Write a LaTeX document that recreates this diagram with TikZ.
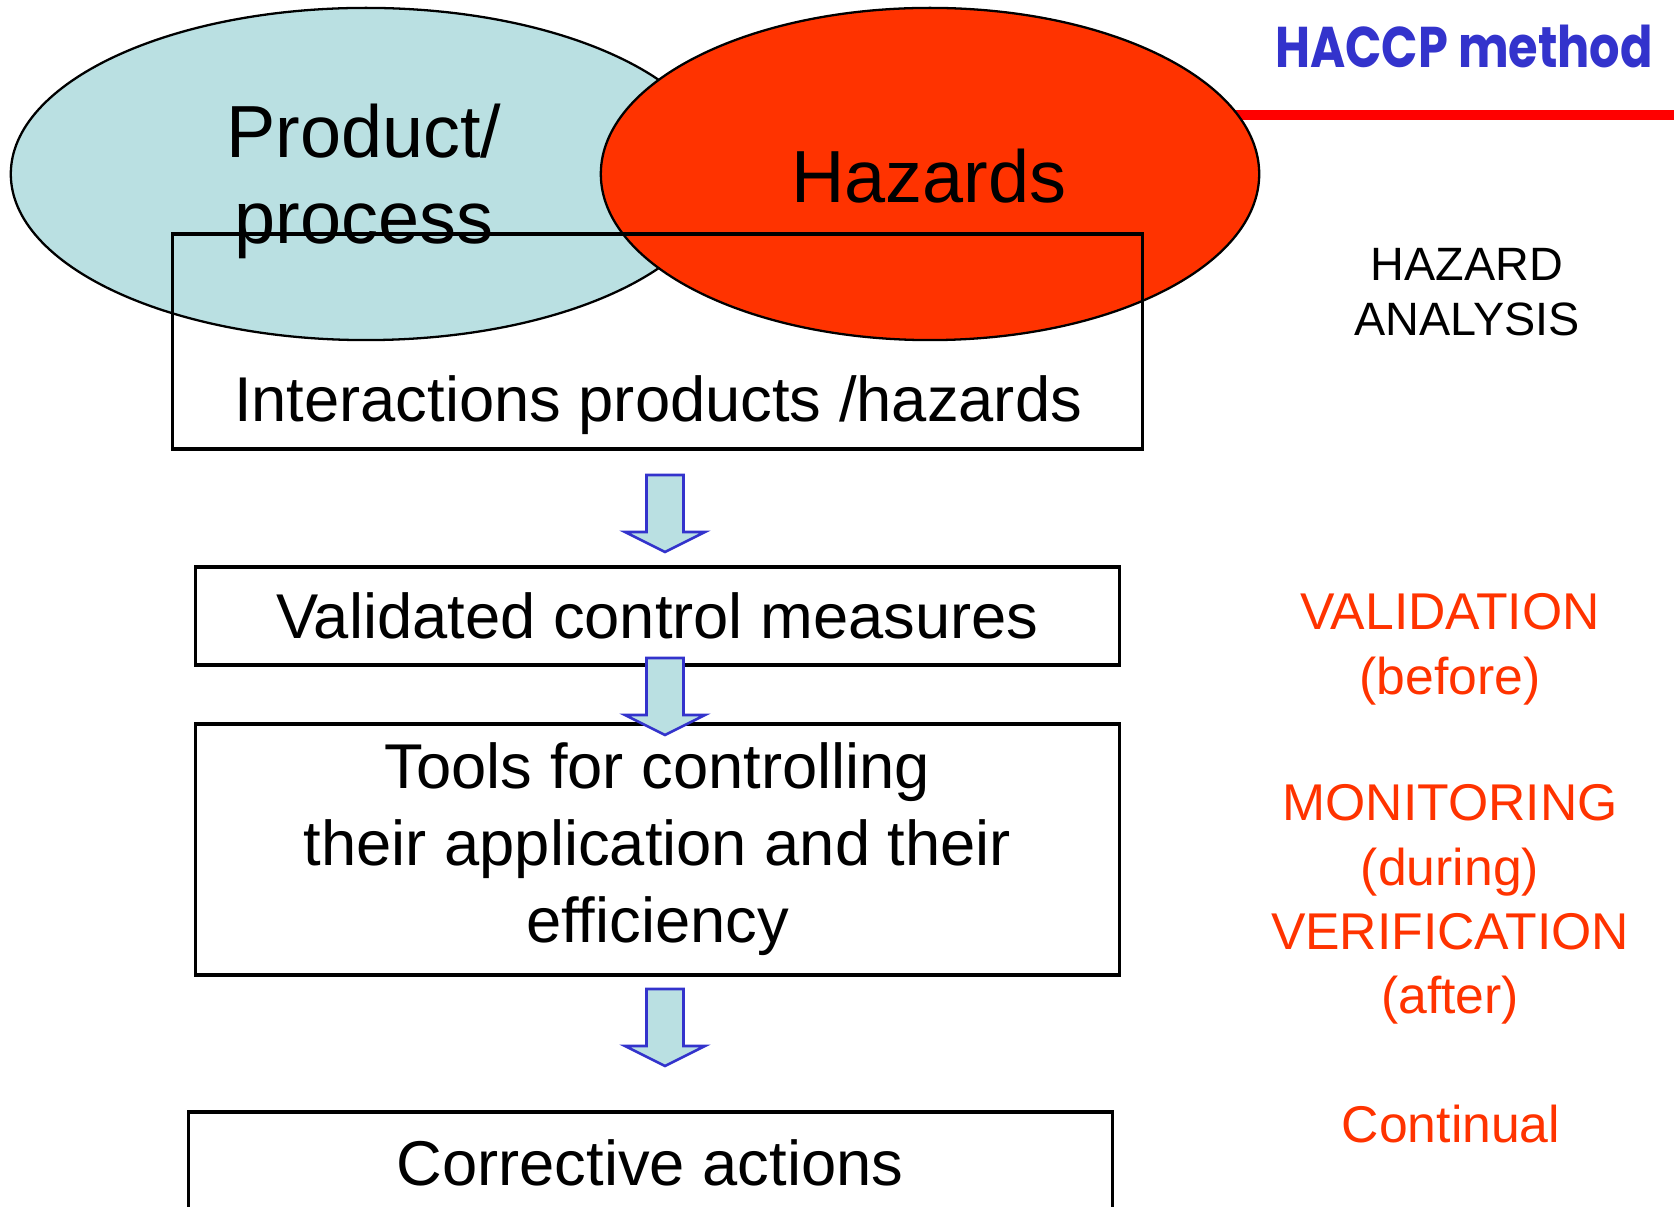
\documentclass[tikz,border=0pt]{standalone}
\usepackage{fontspec}
\setmainfont{Liberation Sans}
\newfontfamily\haccpfont{Poppins}
\usetikzlibrary{shapes.geometric}
\definecolor{paleblue}{HTML}{BAE0E2}
\definecolor{hazred}{HTML}{FF3300}
\definecolor{haccpblue}{HTML}{3333CC}
\definecolor{linered}{HTML}{FF0000}
\tikzset{
  stepbox/.style={draw=black, line width=0.9pt, inner sep=0pt, align=center,
     font=\fontsize{18}{21.9}\selectfont},
  blob/.style={ellipse, draw=black, line width=0.65pt, inner sep=0pt, align=center,
     font=\fontsize{21}{24.5}\selectfont},
  sidenote/.style={text=hazred, align=center, font=\fontsize{14.7}{18.2}\selectfont},
  barrow/.pic={\draw[draw=haccpblue, fill=paleblue, line width=0.75pt, line join=miter]
     (-18.5,0) -- (18.5,0) -- (18.5,57) -- (40,57) -- (0,77) -- (-40,57) -- (-18.5,57) -- cycle;}
}
\begin{document}
\begin{tikzpicture}[x=0.01cm, y=-0.01cm]
\useasboundingbox (0,0) rectangle (1677,1207);
\clip (0,0) rectangle (1677,1207);
% title and rule
\draw[linered, line width=3.1pt] (1235,115) -- (1674,115);
\node[anchor=base, text=haccpblue, inner sep=0pt, font=\haccpfont\bfseries\fontsize{13.6}{16}\selectfont] (title) at (1464,68) {\scalebox{1}[1.2]{HACCP method}};
% ellipses
\node[blob, fill=paleblue, minimum width=7.10cm, minimum height=3.32cm] (prod) at (366,174) {};
\node[blob, fill=hazred, minimum width=6.58cm, minimum height=3.32cm] (haz) at (930,174) {};
\node[anchor=base, align=center, font=\fontsize{21}{24.5}\selectfont] (prodtext) at (364,244) {Product/\\process};
\node[anchor=base, font=\fontsize{21}{24.5}\selectfont] (haztext) at (929,203) {Hazards};
% interactions box
\node[stepbox, minimum width=9.69cm, minimum height=2.15cm] (inter) at (657.5,341.5) {};
\node[anchor=base, font=\fontsize{18}{21.9}\selectfont] (intertext) at (658,422) {Interactions products /hazards};
% hazard analysis
\node[anchor=base, align=center, font=\fontsize{13.3}{15.9}\selectfont] (ha) at (1467,336) {HAZARD\\ANALYSIS};
% boxes
\node[stepbox, minimum width=9.23cm, minimum height=0.98cm] (valid) at (657.5,616) {Validated control measures};
\node[stepbox, minimum width=9.23cm, minimum height=2.51cm] (tools) at (657.5,849.5) {Tools for controlling\\their application and their\\efficiency};
\node[stepbox, minimum width=9.23cm, minimum height=2.20cm] (corr) at (650.5,1222) {};
\node[anchor=base, font=\fontsize{18}{21.9}\selectfont] (corrtext) at (650,1185) {Corrective actions};
% block arrows
\pic (a1) at (665,475) {barrow};
\pic (a2) at (665,658) {barrow};
\pic (a3) at (665,989) {barrow};
% side notes
\node[sidenote, anchor=base] (val) at (1450,694) {VALIDATION\\(before)};
\node[sidenote, anchor=base] (mon) at (1450,1013) {MONITORING\\(during)\\VERIFICATION\\(after)};
\node[sidenote, anchor=base] (cont) at (1451,1142) {Continual};
\end{tikzpicture}
\end{document}
